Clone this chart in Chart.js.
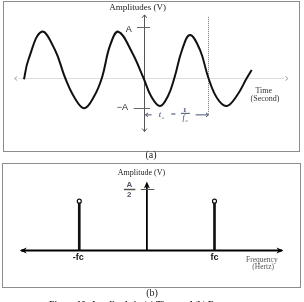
<!DOCTYPE html>
<html><head><meta charset="utf-8">
<script src="https://cdn.jsdelivr.net/npm/chart.js@4.4.1/dist/chart.umd.min.js"></script>
<style>
html,body{margin:0;padding:0;background:#fff;width:304px;height:302px;overflow:hidden;position:relative;}
.box{position:absolute;border:1px solid #8c8c8c;box-sizing:border-box;}
#pa{left:3px;top:1px;width:297px;height:151px;}
#pb{left:2px;top:163px;width:299px;height:125px;}
canvas{position:absolute;left:0;}
#ca{top:0;}
#cb{top:157px;}
.lbl{position:absolute;font-family:"Liberation Serif",serif;color:#222;white-space:nowrap;text-align:center;}
</style>
</head><body>
<div class="box" id="pa"></div>
<div class="box" id="pb"></div>
<canvas id="ca" width="304" height="157"></canvas>
<canvas id="cb" width="304" height="145"></canvas>
<div class="lbl" style="left:131px;top:149px;width:40px;font-size:10px;line-height:12px;">(a)</div>
<div class="lbl" style="left:132px;top:287px;width:40px;font-size:10px;line-height:12px;">(b)</div>
<div class="lbl" style="left:0;top:298px;width:298px;font-size:9px;line-height:12px;font-weight:bold;">Figure 10: Amplitude in (a) Time and (b) Frequency</div>
<script>
// ---------- Panel (a): time domain ----------
const waveTime = [-1.884,-1.816,-1.606,-1.397,-1.240,-1.083,-0.937,-0.785,-0.659,-0.534,-0.403,-0.193,-0.011,0.110,0.251,0.377,0.479,0.597,0.722,0.879,1.009,1.146,1.298,1.460,1.612,1.691];
const waveAmp  = [-0.036,0.347,0.907,0.545,0.000,-0.416,-0.610,-0.378,0.000,0.630,0.907,0.511,0.000,-0.366,-0.564,-0.366,0.000,0.545,0.842,0.545,0.000,-0.406,-0.564,-0.356,-0.016,0.149];
const ampTickValues = [1, -0.61];
const ampTickLabels = ['A', '\u2212A'];
const periodValue = 1;            // t_c = 1/f_c
const timeAxisLabel = ['Time', '(Second)'];
const ampAxisLabelA = 'Amplitudes (V)';

// ---------- Panel (b): frequency domain ----------
const specFreq = [-1, 1];
const specFreqLabels = ['-fc', 'fc'];
const specMag = [0.5, 0.5];
const centerArrowValue = 0.70;
const halfTickValue = 0.62;
const freqAxisLabel = ['Frequency', '(Hertz)'];
const ampAxisLabelB = 'Amplitude (V)';

function seg(ctx,x1,y1,x2,y2){ctx.beginPath();ctx.moveTo(x1,y1);ctx.lineTo(x2,y2);ctx.stroke();}
function chev(ctx,x,y,dir,s){
  ctx.beginPath();
  if(dir==='l'){ctx.moveTo(x+s,y-s*0.8);ctx.lineTo(x,y);ctx.lineTo(x+s,y+s*0.8);}
  if(dir==='r'){ctx.moveTo(x-s,y-s*0.8);ctx.lineTo(x,y);ctx.lineTo(x-s,y+s*0.8);}
  if(dir==='u'){ctx.moveTo(x-s*0.8,y+s);ctx.lineTo(x,y);ctx.lineTo(x+s*0.8,y+s);}
  if(dir==='d'){ctx.moveTo(x-s*0.8,y-s);ctx.lineTo(x,y);ctx.lineTo(x+s*0.8,y-s);}
  ctx.stroke();
}
function head(ctx,x,y,dir,len,w){
  ctx.beginPath();
  if(dir==='l'){ctx.moveTo(x,y);ctx.lineTo(x+len,y-w);ctx.lineTo(x+len*0.7,y);ctx.lineTo(x+len,y+w);}
  if(dir==='r'){ctx.moveTo(x,y);ctx.lineTo(x-len,y-w);ctx.lineTo(x-len*0.7,y);ctx.lineTo(x-len,y+w);}
  if(dir==='u'){ctx.moveTo(x,y);ctx.lineTo(x-w,y+len);ctx.lineTo(x,y+len*0.7);ctx.lineTo(x+w,y+len);}
  ctx.closePath();ctx.fill();
}

const axesA = {
  id:'axesA',
  beforeDatasetsDraw(c){
    const ctx=c.ctx, X=v=>c.scales.x.getPixelForValue(v), Y=v=>c.scales.y.getPixelForValue(v);
    ctx.save();
    const y0=Math.round(Y(0))+0.5, x0=Math.round(X(0))+0.5;
    ctx.strokeStyle='#dedede';ctx.lineWidth=1;
    seg(ctx,X(-1.97),y0,X(2.20),y0);
    ctx.strokeStyle='#9a9a9a';
    chev(ctx,X(-2.03),y0,'l',2.5);
    chev(ctx,X(2.26),y0,'r',2.5);
    ctx.strokeStyle='#555';
    seg(ctx,x0,Y(1.24),x0,Y(-1.07));
    chev(ctx,x0,Y(1.24),'u',3);
    chev(ctx,x0,Y(-1.07),'d',3);
    ctx.strokeStyle='#666';
    const ya=Math.round(Y(ampTickValues[0]))+0.5, yb=Math.round(Y(ampTickValues[1]))+0.5;
    seg(ctx,X(-0.11),ya,X(0.095),ya);
    seg(ctx,X(-0.16),yb,X(0.095),yb);
    ctx.fillStyle='#222';ctx.font='9px "Liberation Sans"';ctx.textBaseline='middle';
    ctx.textAlign='center';ctx.fillText(ampTickLabels[0],X(-0.24),ya+2);
    ctx.textAlign='right';ctx.fillText(ampTickLabels[1],X(-0.25),yb-0.5);
    ctx.strokeStyle='#7a7a7a';ctx.setLineDash([1,1]);
    const xp=Math.round(X(periodValue))+0.5;
    seg(ctx,xp,Y(1.2),xp,Y(-0.72));
    ctx.setLineDash([]);
    const ym=Y(-0.74);
    ctx.strokeStyle='#4a5570';ctx.fillStyle='#3b4763';
    seg(ctx,x0+1,ym,X(0.12),ym);chev(ctx,x0+1,ym,'l',2.5);
    seg(ctx,X(0.81),ym,xp,ym);chev(ctx,xp,ym,'r',2.5);
    ctx.textAlign='center';
    ctx.font='italic 9px "Liberation Serif"';ctx.fillText('t',X(0.25),ym);
    ctx.font='italic 5px "Liberation Serif"';ctx.fillText('c',X(0.30),ym+2.5);
    ctx.font='9px "Liberation Serif"';ctx.fillText('=',X(0.46),ym);
    ctx.font='bold 7px "Liberation Serif"';ctx.fillText('1',X(0.64),ym-5);
    seg(ctx,X(0.58),ym-1.5,X(0.72),ym-1.5);
    ctx.font='italic 8px "Liberation Serif"';ctx.fillText('f',X(0.62),ym+3.5);
    ctx.font='italic 5px "Liberation Serif"';ctx.fillText('c',X(0.67),ym+5.5);
    ctx.fillStyle='#222';ctx.font='9px "Liberation Serif"';
    ctx.fillText(ampAxisLabelA,X(-0.10),Y(1.38));
    ctx.fillStyle='#333';ctx.font='8px "Liberation Serif"';
    ctx.fillText(timeAxisLabel[0],X(1.88),Y(-0.27));
    ctx.fillText(timeAxisLabel[1],X(1.90),Y(-0.43));
    ctx.restore();
  }
};

new Chart(document.getElementById('ca'),{
  type:'scatter',
  data:{datasets:[{
    data:waveTime.map((t,i)=>({x:t,y:waveAmp[i]})),
    showLine:true,borderColor:'#111',borderWidth:2,pointRadius:0,
    tension:0.4,fill:false
  }]},
  options:{
    responsive:false,animation:false,devicePixelRatio:1,
    layout:{padding:0},
    plugins:{legend:{display:false},tooltip:{enabled:false}},
    scales:{
      x:{type:'linear',display:false,min:-2.2606,max:2.5118},
      y:{type:'linear',display:false,min:-1.5743,max:1.5347}
    }
  },
  plugins:[axesA]
});

const axesB = {
  id:'axesB',
  beforeDatasetsDraw(c){
    const ctx=c.ctx, X=v=>c.scales.x.getPixelForValue(v), Y=v=>c.scales.y.getPixelForValue(v);
    ctx.save();
    const y0=Y(0), x0=X(0);
    ctx.strokeStyle='#000';ctx.fillStyle='#000';ctx.lineWidth=2;
    seg(ctx,X(-1.86),y0,X(2.0),y0);
    head(ctx,X(-1.88),y0,'l',7,3);
    head(ctx,X(2.02),y0,'r',7,3);
    ctx.lineWidth=1.8;
    seg(ctx,x0,y0,x0,Y(centerArrowValue)+5);
    head(ctx,x0,Y(centerArrowValue),'u',7,3);
    ctx.lineWidth=1;ctx.strokeStyle='#555';
    const yh=Math.round(Y(halfTickValue))+0.5;
    seg(ctx,X(-0.09),yh,X(0.11),yh);
    ctx.fillStyle='#556';ctx.textAlign='center';ctx.textBaseline='middle';
    ctx.font='bold 8px "Liberation Sans"';ctx.fillText('A',X(-0.26),yh-4.5);
    ctx.lineWidth=1.5;seg(ctx,X(-0.34),yh,X(-0.17),yh);
    ctx.fillText('2',X(-0.26),yh+5);
    ctx.fillStyle='#111';ctx.font='bold 9px "Liberation Sans"';
    specFreq.forEach((f,i)=>ctx.fillText(specFreqLabels[i],X(f)+(i===0?-1:0),y0+7));
    ctx.fillStyle='#222';ctx.font='8px "Liberation Serif"';
    ctx.fillText(ampAxisLabelB,X(-0.08),Y(0.79));
    ctx.fillStyle='#555';ctx.font='7.5px "Liberation Serif"';
    ctx.fillText(freqAxisLabel[0],X(1.7),y0+10);
    ctx.fillText(freqAxisLabel[1],X(1.72),y0+17);
    ctx.restore();
  }
};

new Chart(document.getElementById('cb'),{
  data:{datasets:[
    {type:'bar',data:specFreq.map((f,i)=>({x:f,y:specMag[i]})),backgroundColor:'#111',barThickness:2,borderWidth:0,order:2},
    {type:'scatter',data:specFreq.map((f,i)=>({x:f,y:specMag[i]})),pointRadius:2,pointBorderWidth:1.2,pointBorderColor:'#111',pointBackgroundColor:'#fff',order:1}
  ]},
  options:{
    responsive:false,animation:false,devicePixelRatio:1,
    layout:{padding:0},
    plugins:{legend:{display:false},tooltip:{enabled:false}},
    scales:{
      x:{type:'linear',display:false,min:-2.0957,max:2.2471,offset:false},
      y:{type:'linear',display:false,min:-0.4717,max:0.8962}
    }
  },
  plugins:[axesB]
});
</script>
</body></html>
